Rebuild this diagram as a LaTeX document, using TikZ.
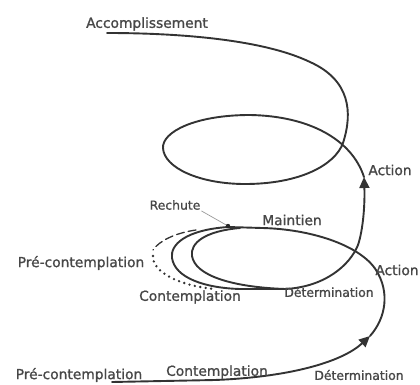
\documentclass[tikz,border=0pt]{standalone}
\usepackage{fontspec}
\setsansfont{DejaVu Sans}
\newfontfamily\etiqfont[FakeBold=1.2]{DejaVu Sans}
\usetikzlibrary{arrows.meta}

\begin{document}
\begin{tikzpicture}[x=1pt,y=-1pt,>={Triangle[length=11pt,width=10pt]},line join=round,line cap=round,
	font=\etiqfont\fontsize{13.8}{15}\selectfont,
	spire/.style={draw=black!80,line width=1.9pt},
	etiq/.style={text=black!72,inner sep=1pt},
	petit/.style={font=\etiqfont\fontsize{12.4}{14}\selectfont}]
	\useasboundingbox (0,0) rectangle (420,385);
	% premier tour
	\draw[spire,->] (112,382)--(215,380) .. controls (290,377) and (342,362) .. (370,336);
	\draw[spire] (370,336) .. controls (386,318) and (390,292) .. (376,270)
		.. controls (360,245) and (310,229) .. (262,228) -- (228,227)
		.. controls (185,230) and (170,245) .. (172,258)
		.. controls (175,278) and (205,288) .. (240,289) -- (285,289);
	\draw[spire] (240,228) .. controls (205,231) and (190,243) .. (192,256)
		.. controls (195,275) and (230,287) .. (285,289);
	\draw[spire,line width=1.3pt,dash pattern=on 8pt off 4pt] (196,230) .. controls (175,233) and (159,241) .. (153,250);
	\draw[spire,line width=2.6pt,dash pattern=on 0pt off 5.5pt] (153,256) .. controls (152,272) and (180,286) .. (215,289);
	% second tour
	\draw[spire,->] (285,289) .. controls (325,287) and (350,265) .. (358,245)
		.. controls (363,230) and (365,205) .. (364,177);
	\draw[spire] (364,177) .. controls (352,140) and (310,116) .. (250,115)
		.. controls (195,115) and (162,132) .. (163,148)
		.. controls (164,168) and (200,184) .. (245,184)
		.. controls (300,184) and (335,165) .. (343,143)
		.. controls (353,112) and (350,80) .. (310,62)
		.. controls (260,38) and (170,33) .. (107,33);
	% rechute
	\coordinate (rupture) at (228,226);
	\node[etiq,petit] (rechute) at (175,205) {Rechute};
	\draw[black!40,line width=0.7pt] (rechute.south east) -- (rupture);
	\fill[black!85] (rupture) circle (2.2pt);
	% etiquettes
	\node[etiq] (accompl) at (147,24) {Accomplissement};
	\node[etiq] (action2) at (390,170) {Action};
	\node[etiq] (maintien) at (292,220) {Maintien};
	\node[etiq] (precont1) at (81,263) {Pré-contemplation};
	\node[etiq] (action1) at (397,270) {Action};
	\node[etiq] (cont1) at (190,297) {Contemplation};
	\node[etiq,petit] (deter1) at (329,292) {Détermination};
	\node[etiq] (precont0) at (79,375) {Pré-contemplation};
	\node[etiq] (cont0) at (217,372) {Contemplation};
	\node[etiq,petit] (deter0) at (359,375) {Détermination};
\end{tikzpicture}
\end{document}
